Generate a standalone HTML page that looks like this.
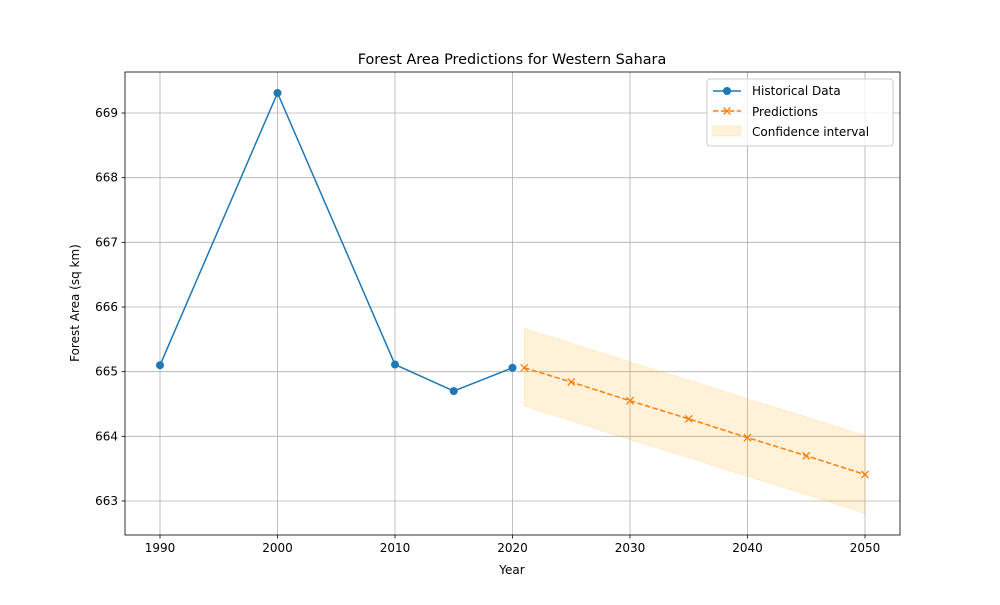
<!DOCTYPE html>
<html><head><meta charset="utf-8"><style>
body{margin:0;background:#fff;font-family:"Liberation Sans","DejaVu Sans",sans-serif;}
svg text{font-family:"DejaVu Sans","Liberation Sans",sans-serif;}
</style></head><body>
<svg id="chart" width="1000" height="600"></svg>
<script>
const histYears=[1990,2000,2010,2015,2020];
const histVals=[665.10,669.31,665.11,664.70,665.06];
const predYears=[2021,2025,2030,2035,2040,2045,2050];
const predVals=[665.06,664.84,664.55,664.27,663.98,663.70,663.41];
const ciUpper=[665.67,665.44,665.15,664.87,664.58,664.30,664.01];
const ciLower=[664.47,664.24,663.95,663.67,663.38,663.10,662.81];
const xTicks=[1990,2000,2010,2020,2030,2040,2050];
const yTicks=[663,664,665,666,667,668,669];

const L=125,R=900,T=72,B=535;
const x=v=>160+(v-1990)*(705/60);
const y=v=>501-(v-663)*(388/6);
const svg=document.getElementById('chart');
const NS='http://www.w3.org/2000/svg';
function mk(tag,attrs,parent){const e=document.createElementNS(NS,tag);for(const k in attrs)e.setAttribute(k,attrs[k]);(parent||svg).appendChild(e);return e;}

// grid + ticks
xTicks.forEach(t=>{
  const g=mk('line',{x1:x(t),x2:x(t),y1:T,y2:B,stroke:'#b0b0b0','stroke-width':0.8});
  
  
  mk('line',{x1:x(t),x2:x(t),y1:B,y2:B+3.5,stroke:'#000','stroke-width':0.8});
  const tx=mk('text',{x:x(t),y:B+17,'font-size':12,'text-anchor':'middle'});tx.textContent=t;
  
  
});
yTicks.forEach(t=>{
  const g=mk('line',{x1:L,x2:R,y1:y(t),y2:y(t),stroke:'#b0b0b0','stroke-width':0.8});
  
  
  mk('line',{x1:L-3.5,x2:L,y1:y(t),y2:y(t),stroke:'#000','stroke-width':0.8});
  const tx=mk('text',{x:L-7,y:y(t)+4,'font-size':12,'text-anchor':'end'});tx.textContent=t;
  
  
});

// CI band
let pts=predYears.map((yr,i)=>x(yr)+','+y(ciUpper[i]));
pts=pts.concat(predYears.map((yr,i)=>x(yr)+','+y(ciLower[i])).reverse());
const band=mk('polygon',{points:pts.join(' '),fill:'#ffa500','fill-opacity':0.15,stroke:'#ffa500','stroke-opacity':0.15});



// historical
const hl=mk('polyline',{points:histYears.map((yr,i)=>x(yr)+','+y(histVals[i])).join(' '),fill:'none',stroke:'#1f77b4','stroke-width':1.5});


histYears.forEach((yr,i)=>{
  const c=mk('circle',{cx:x(yr),cy:y(histVals[i]),r:4,fill:'#1f77b4'});
  
  
});
// predictions
const pl=mk('polyline',{points:predYears.map((yr,i)=>x(yr)+','+y(predVals[i])).join(' '),fill:'none',stroke:'#ff7f0e','stroke-width':1.5,'stroke-dasharray':'5.5,2.4'});


predYears.forEach((yr,i)=>{
  const cx=x(yr),cy=y(predVals[i]);
  const p=mk('path',{d:`M${cx-3.5},${cy-3.5}L${cx+3.5},${cy+3.5}M${cx-3.5},${cy+3.5}L${cx+3.5},${cy-3.5}`,stroke:'#ff7f0e','stroke-width':1.3});
  
  
});

// frame
mk('rect',{x:L,y:T,width:R-L,height:B-T,fill:'none',stroke:'#000','stroke-width':0.8});
</script>
<svg width="1000" height="600" style="position:absolute;left:0;top:0">
<text x="512" y="64" font-size="14.4" text-anchor="middle">Forest Area Predictions for Western Sahara</text>
<text x="512" y="574" font-size="12" text-anchor="middle">Year</text>
<text x="79" y="303" font-size="12" text-anchor="middle" transform="rotate(-90 79 303)">Forest Area (sq km)</text>
<g>
<rect x="707" y="79" width="186" height="67" rx="3" fill="#fff" fill-opacity="0.8" stroke="#ccc"/>
<g>
<line x1="713" x2="741" y1="91" y2="91" stroke="#1f77b4" stroke-width="1.5"/><circle cx="727" cy="91" r="4" fill="#1f77b4"/>
<text x="752" y="95" font-size="12">Historical Data</text></g>
<g>
<line x1="713" x2="741" y1="111" y2="111" stroke="#ff7f0e" stroke-width="1.5" stroke-dasharray="5.5,2.4"/>
<path d="M723.5,107.5L730.5,114.5M723.5,114.5L730.5,107.5" stroke="#ff7f0e" stroke-width="1.3"/>
<text x="752" y="116" font-size="12">Predictions</text></g>
<g>
<rect x="713" y="126" width="28" height="10" fill="#ffa500" fill-opacity="0.15" stroke="#ffa500" stroke-opacity="0.15"/>
<text x="752" y="136" font-size="12">Confidence interval</text></g>
</g>
</svg>
</body></html>
